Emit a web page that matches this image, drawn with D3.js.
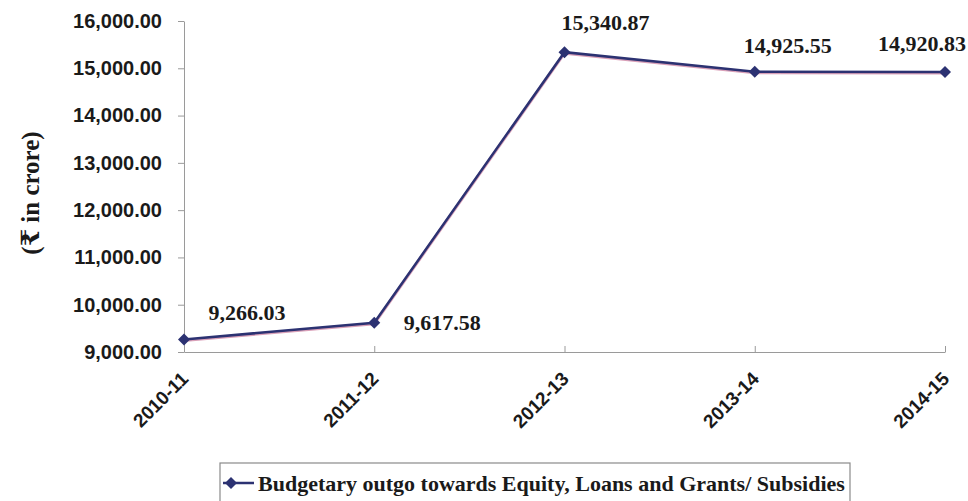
<!DOCTYPE html>
<html><head><meta charset="utf-8">
<script src="https://cdn.jsdelivr.net/npm/d3@7"></script>
<style>body{margin:0;background:#fff}</style>
</head><body>
<svg id="c" width="968" height="501"></svg>
<script>
const categories = ["2010-11","2011-12","2012-13","2013-14","2014-15"];
const values = [9266.03, 9617.58, 15340.87, 14925.55, 14920.83];
const valueLabels = ["9,266.03","9,617.58","15,340.87","14,925.55","14,920.83"];
const yTicks = [9000,10000,11000,12000,13000,14000,15000,16000];
const seriesName = "Budgetary outgo towards Equity, Loans and Grants/ Subsidies";
const yTitle = "(\u20B9 in crore)";

const svg = d3.select("#c");
const m = {left:184, right:945, top:21, bottom:352};
const x = d3.scalePoint().domain(categories).range([m.left, m.right]);
const y = d3.scaleLinear().domain([9000,16000]).range([m.bottom, m.top]);
const lineColor = "#2c3272";
const axisColor = "#9a9a9a";
const sansB = "'Liberation Sans', Arial, sans-serif";
const serifB = "'Liberation Serif', 'Times New Roman', 'DejaVu Serif', serif";

// Y axis
const ya = svg.append("g").attr("transform",`translate(${m.left},0)`)
  .call(d3.axisLeft(y).tickValues(yTicks).tickSize(6).tickSizeOuter(0)
    .tickFormat(d3.format(",.2f")));
ya.select(".domain").attr("stroke",axisColor);
ya.selectAll(".tick line").attr("stroke",axisColor);
ya.selectAll(".tick text").attr("x",-22).attr("fill","#1a1a1a")
  .style("font-family",sansB).style("font-weight","bold").style("font-size","20px");

// X axis
const xa = svg.append("g").attr("transform",`translate(0,${m.bottom})`)
  .call(d3.axisBottom(x).tickSize(-6).tickSizeOuter(0));
xa.select(".domain").attr("stroke",axisColor);
xa.selectAll(".tick line").attr("stroke",axisColor);
xa.selectAll(".tick text")
  .attr("fill","#1a1a1a")
  .style("font-family",sansB).style("font-weight","bold").style("font-size","19px")
  .attr("text-anchor","end")
  .attr("dy","0")
  .attr("transform","translate(5,28) rotate(-45)")
  .attr("y",0).attr("x",0);

// Y title
svg.append("text")
  .attr("transform","translate(30,193) rotate(-90)")
  .attr("text-anchor","middle")
  .attr("dy","0.35em")
  .attr("fill","#1a1a1a")
  .style("font-family",serifB).style("font-weight","bold").style("font-size","25px")
  .text(yTitle);

// Line
const data = categories.map((c,i)=>({c, v:values[i], l:valueLabels[i]}));
const line = d3.line().x(d=>x(d.c)).y(d=>y(d.v));
svg.append("path").datum(data).attr("d",line)
  .attr("fill","none").attr("stroke","#d9a0b8").attr("stroke-width",3)
  .attr("transform","translate(0,1)");
svg.append("path").datum(data).attr("d",line)
  .attr("fill","none").attr("stroke",lineColor).attr("stroke-width",2.5);

const marker = d3.symbol().type(d3.symbolSquare).size(72);
svg.selectAll(".pt").data(data).join("path").attr("class","pt")
  .attr("d",marker)
  .attr("transform",d=>`translate(${x(d.c)},${y(d.v)}) rotate(45)`)
  .attr("fill",lineColor);

// Value labels
const offs = [[63,-27],[68,0],[41,-30],[33,-27],[-23,-29]];
svg.selectAll(".vl").data(data).join("text").attr("class","vl")
  .attr("x",(d,i)=>x(d.c)+offs[i][0])
  .attr("y",(d,i)=>y(d.v)+offs[i][1])
  .attr("text-anchor","middle")
  .attr("dy","0.35em")
  .attr("fill","#1a1a1a")
  .style("font-family",serifB).style("font-weight","bold").style("font-size","22px")
  .text(d=>d.l);

// Legend
const lg = svg.append("g");
lg.append("rect").attr("x",220).attr("y",463).attr("width",630).attr("height",45)
  .attr("fill","none").attr("stroke","#8a8a8a").attr("stroke-width",1.2);
lg.append("line").attr("x1",223).attr("x2",254).attr("y1",483).attr("y2",483)
  .attr("stroke",lineColor).attr("stroke-width",2.5);
lg.append("path").attr("d",marker).attr("transform","translate(231,483) rotate(45)")
  .attr("fill",lineColor);
lg.append("text").attr("x",258).attr("y",483).attr("dy","0.35em")
  .attr("fill","#1a1a1a")
  .style("font-family",serifB).style("font-weight","bold").style("font-size","22px")
  .text(seriesName);
</script>
</body></html>
